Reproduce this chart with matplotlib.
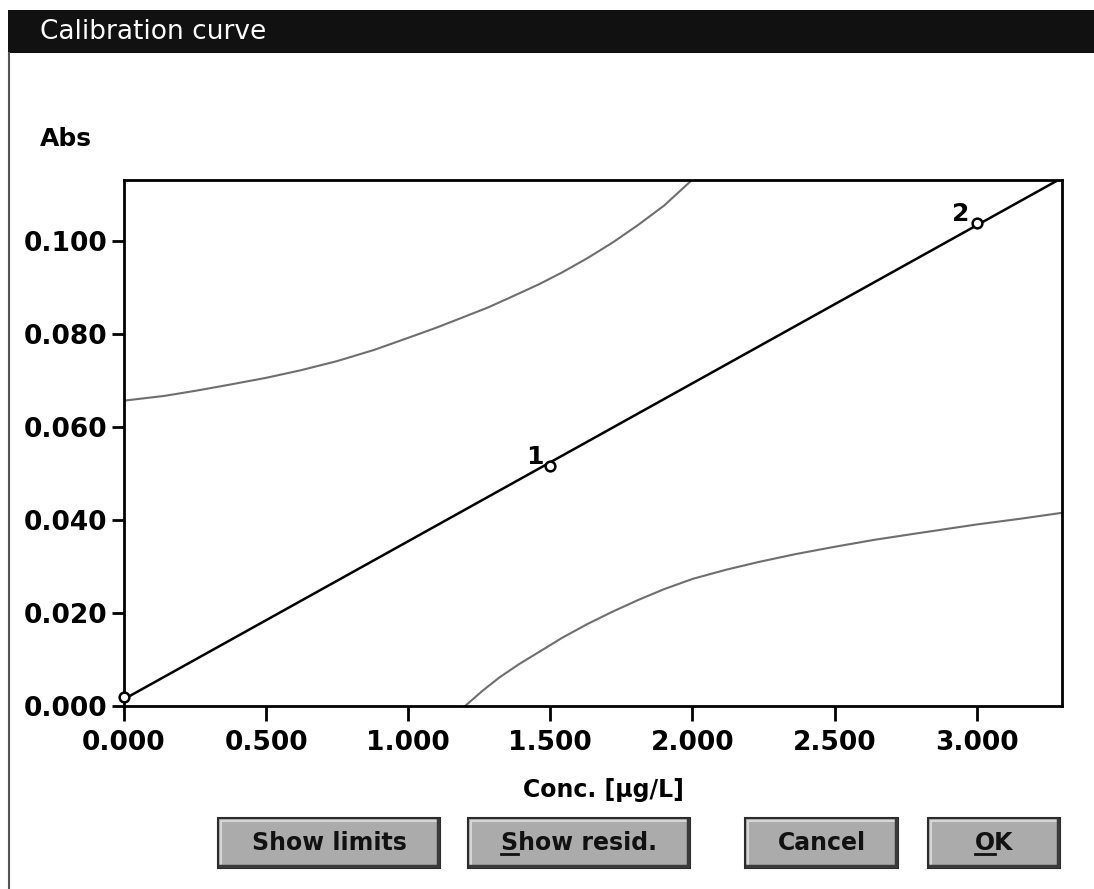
import matplotlib
matplotlib.use('Agg')
import matplotlib.pyplot as plt
import numpy as np
from matplotlib.patches import Rectangle
from matplotlib.lines import Line2D

plt.rcParams['font.family'] = ['DejaVu Sans']

# calibration standards
conc = [0.0, 1.5, 3.0]
absorb = [0.0019, 0.0515, 0.1037]
point_labels = ['', '1', '2']

# confidence limits
upper_x = [0.0, 0.14, 0.25, 0.36, 0.5, 0.62, 0.75, 0.88, 1.0, 1.10, 1.18, 1.28,
           1.36, 1.46, 1.54, 1.63, 1.72, 1.81, 1.90, 2.0]
upper_y = [0.0656, 0.0666, 0.0677, 0.0689, 0.0705, 0.0721, 0.0741, 0.0765, 0.0791, 0.0813,
           0.0832, 0.0856, 0.0878, 0.0906, 0.0931, 0.0962, 0.0996, 0.1034, 0.1075, 0.1131]
lower_x = [1.20, 1.26, 1.32, 1.39, 1.46, 1.54, 1.63, 1.72, 1.81, 1.90, 2.00, 2.12,
           2.23, 2.36, 2.50, 2.64, 2.78, 2.89, 3.00, 3.15, 3.30]
lower_y = [0.0, 0.0032, 0.0061, 0.0090, 0.0116, 0.0146, 0.0176, 0.0203, 0.0228, 0.0251,
           0.0273, 0.0293, 0.0309, 0.0326, 0.0342, 0.0357, 0.0370, 0.0380, 0.0390, 0.0402, 0.0415]

x_ticks = [0.0, 0.5, 1.0, 1.5, 2.0, 2.5, 3.0]
y_ticks = [0.0, 0.02, 0.04, 0.06, 0.08, 0.10]
buttons = ['Show limits', 'Show resid.', 'Cancel', 'OK']

W, H = 1094, 889


def fx(px):
    return px / W


def fy(py):
    return 1 - py / H


fig = plt.figure(figsize=(W / 100, H / 100), dpi=100)
fig.patch.set_facecolor('white')

# window frame + title bar
fig.add_artist(Rectangle((fx(8), fy(53)), 1 - fx(8), 43 / H, transform=fig.transFigure,
                         facecolor='#111111', edgecolor='none'))
fig.add_artist(Line2D([fx(9), fx(9)], [0, fy(53)], transform=fig.transFigure,
                      color='#555555', lw=1.5))
fig.text(fx(40), fy(32), 'Calibration curve', color='white', fontsize=19,
         va='center', ha='left')

ax = fig.add_axes([fx(124), fy(706), (1062 - 124) / W, (706 - 180) / H])
ax.set_xlim(0, 3.3)
ax.set_ylim(0, 0.113)

# regression line from the standards
b, a = np.polyfit(conc, absorb, 1)
xl = np.array([0, 3.3])
ax.plot(xl, a + b * xl, color='black', lw=1.8)

ax.plot(upper_x, upper_y, color='#6e6e6e', lw=1.5)
ax.plot(lower_x, lower_y, color='#6e6e6e', lw=1.5)

ax.plot(conc, absorb, 'o', mfc='white', mec='black', ms=7, mew=1.8, clip_on=False, zorder=5)
for xv, yv, lab in zip(conc, absorb, point_labels):
    if lab:
        ax.annotate(lab, (xv, yv), xytext=(-5, -2), textcoords='offset points',
                    ha='right', va='bottom', fontsize=18, fontweight='bold')

ax.set_xticks(x_ticks)
ax.set_yticks(y_ticks)
ax.xaxis.set_major_formatter(matplotlib.ticker.FormatStrFormatter('%.3f'))
ax.yaxis.set_major_formatter(matplotlib.ticker.FormatStrFormatter('%.3f'))
for lab in ax.get_xticklabels() + ax.get_yticklabels():
    lab.set_fontweight('bold')
ax.tick_params(axis='x', direction='out', length=11, width=2, pad=6, labelsize=19)
ax.tick_params(axis='y', direction='out', length=9, width=2, pad=3, labelsize=19)
for s in ax.spines.values():
    s.set_linewidth(2)

ax.set_xlabel('Conc. [µg/L]', fontsize=17, fontweight='bold', labelpad=17)
ax.xaxis.set_label_coords((603 - 124) / 938, -(790 - 706) / 526)
ax.xaxis.label.set_va('center')
ax.set_ylabel('Abs', fontsize=18, fontweight='bold', rotation=0, ha='left', va='center')
ax.yaxis.set_label_coords((40 - 124) / 938, (706 - 139) / 526)

# dialog buttons
btn_boxes = [(218, 440), (468, 690), (745, 898), (928, 1060)]
underline = [None, 0, None, 0]
for (x0, x1), txt, ul in zip(btn_boxes, buttons, underline):
    y0, y1 = 818, 868
    fig.add_artist(Rectangle((fx(x0), fy(y1)), (x1 - x0) / W, (y1 - y0) / H,
                             transform=fig.transFigure, facecolor='#ababab',
                             edgecolor='#2b2b2b', lw=1.5))
    # bevel
    fig.add_artist(Line2D([fx(x0 + 3), fx(x0 + 3), fx(x1 - 3)],
                          [fy(y1 - 4), fy(y0 + 3), fy(y0 + 3)],
                          transform=fig.transFigure, color='#d6d6d6', lw=1.5))
    fig.add_artist(Line2D([fx(x0 + 2), fx(x1 - 2), fx(x1 - 2)],
                          [fy(y1 - 2), fy(y1 - 2), fy(y0 + 2)],
                          transform=fig.transFigure, color='#3a3a3a', lw=2.5))
    t = fig.text(fx((x0 + x1) / 2), fy((y0 + y1) / 2), txt, fontsize=17,
                 fontweight='bold', ha='center', va='center', color='#111111')
    if ul is not None:
        fig.canvas.draw()
        r = fig.canvas.get_renderer()
        bb = t.get_window_extent(r)
        tmp = fig.text(0, 0, txt[0], fontsize=17, fontweight='bold')
        w = tmp.get_window_extent(r).width
        tmp.remove()
        fig.add_artist(Line2D([bb.x0 / W, (bb.x0 + w) / W],
                              [bb.y0 / H + 0.001, bb.y0 / H + 0.001],
                              transform=fig.transFigure, color='#111111', lw=2))

fig.savefig('out.png', dpi=100)
